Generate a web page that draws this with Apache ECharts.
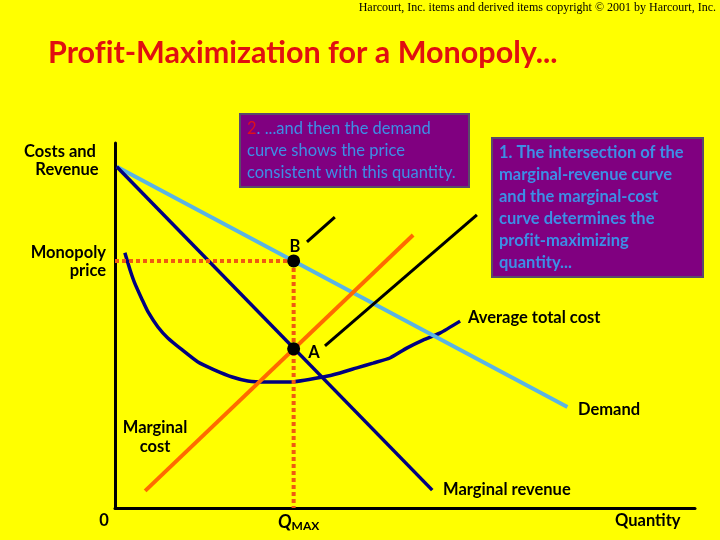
<!DOCTYPE html>
<html>
<head>
<meta charset="utf-8">
<script src="https://cdn.jsdelivr.net/npm/echarts@6/dist/echarts.min.js"></script>
<style>
  html, body { margin: 0; padding: 0; background: #ffff00; }
  #chart { width: 720px; height: 540px; }
</style>
</head>
<body>
<div id="chart"></div>
<script>
/* ===== data (quantity, price) ===== */
const demand = [[0.3, 93.5], [78, 27.7]];
const marginalRevenue = [[0.3, 93.5], [54.7, 4.9]];
const marginalCost = [[5.2, 4.7], [51.4, 74.8]];
const averageTotalCost = [
  [1.7, 69.9], [2.6, 65.2], [3.4, 61.6], [4.7, 57.0], [5.7, 53.7],
  [7.4, 49.6], [9.1, 46.6], [11.6, 43.3], [14.3, 40.0], [17.2, 37.8],
  [20.2, 35.9], [22.9, 34.8], [25.9, 34.5], [30.2, 34.5], [35.9, 35.9],
  [38.8, 37.0], [41.7, 38.4], [44.5, 39.7], [47.4, 41.1], [50.3, 43.8],
  [53.1, 46.0], [56.0, 47.9], [59.5, 51.2]
];
const qMax = 30.8;
const monopolyPrice = 67.7;
const costAtQ = 43.6;
const leaderB = [[33.1, 72.9], [37.9, 79.7]];
const leaderA = [[36.2, 44.4], [62.4, 80.3]];

const font = "Lato, 'Open Sans', sans-serif";
const blueText = "#3c8fe6";
const lbl = "bold 16.5px " + font;

const chart = echarts.init(document.getElementById("chart"));

const lineSeries = (data, color, width, extra) => Object.assign({
  type: "line",
  data: data,
  symbol: "none",
  silent: true,
  lineStyle: { color: color, width: width },
}, extra || {});

const label = (x, y, text, align) => ({
  type: "text", x: x, y: y,
  style: { text: text, font: lbl, fill: "#000", align: align || "left", verticalAlign: "middle" },
});

chart.setOption({
  backgroundColor: "#ffff00",
  animation: false,
  grid: { left: 115, right: 25, top: 143, bottom: 32 },
  xAxis: {
    type: "value", min: 0, max: 100,
    axisLine: { show: true, onZero: false, lineStyle: { color: "#000", width: 3 } },
    axisTick: { show: false }, axisLabel: { show: false }, splitLine: { show: false },
  },
  yAxis: {
    type: "value", min: 0, max: 100,
    axisLine: { show: true, onZero: false, lineStyle: { color: "#000", width: 3 } },
    axisTick: { show: false }, axisLabel: { show: false }, splitLine: { show: false },
  },
  series: [
    lineSeries(averageTotalCost, "#000080", 3.5, { smooth: 0.2 }),
    lineSeries(demand, "#5ab4e4", 4),
    lineSeries(marginalRevenue, "#000080", 3.5),
    lineSeries(marginalCost, "#ff6a00", 4),
    // dotted guides
    lineSeries([[0, monopolyPrice], [qMax, monopolyPrice]], "#f05a10", 4, {
      lineStyle: { color: "#f05a10", width: 4, type: [4, 3] },
    }),
    lineSeries([[qMax, monopolyPrice], [qMax, 0]], "#f05a10", 4, {
      lineStyle: { color: "#f05a10", width: 4, type: [4, 3] },
    }),
    // leader lines
    lineSeries(leaderB, "#000", 3),
    lineSeries(leaderA, "#000", 3),
    {
      type: "scatter",
      data: [[qMax, monopolyPrice], [qMax, costAtQ]],
      symbolSize: 13,
      itemStyle: { color: "#000", opacity: 1 },
      z: 10,
      silent: true,
    },
  ],
  graphic: [
    {
      type: "text", right: 4, top: 2,
      style: {
        text: "Harcourt, Inc. items and derived items copyright © 2001 by Harcourt, Inc.",
        font: "12px 'Liberation Serif', serif", fill: "#000",
      },
    },
    {
      type: "text", left: 48, top: 38,
      style: {
        text: "Prof\u200Cit-Maximization for a Monopoly...",
        font: "bold 30.5px " + font, fill: "#e01010",
      },
    },
    // box 2
    {
      type: "rect", shape: { x: 240, y: 114, width: 229, height: 73 },
      style: { fill: "#800080", stroke: "#5a4a6a", lineWidth: 2 },
    },
    {
      type: "text", left: 247, top: 118,
      style: {
        text: "{r|2}. ...and then the demand\ncurve shows the price\nconsistent with this quantity.",
        font: "16.5px " + font, fill: blueText, lineHeight: 22,
        rich: { r: { fill: "#e0101a", font: "16.5px " + font, lineHeight: 22 } },
      },
    },
    // box 1
    {
      type: "rect", shape: { x: 492, y: 138, width: 211, height: 139 },
      style: { fill: "#800080", stroke: "#5a4a6a", lineWidth: 2 },
    },
    {
      type: "text", left: 499, top: 142,
      style: {
        text: "1. The intersection of the\nmarginal-revenue curve\nand the marginal-cost\ncurve determines the\nprof\u200Cit-maximizing\nquantity...",
        font: "bold 16.5px " + font, fill: blueText, lineHeight: 22,
      },
    },
    // axis labels
    label(60, 152, "Costs and", "center"),
    label(67, 170, "Revenue", "center"),
    label(106, 253, "Monopoly", "right"),
    label(106, 271, "price", "right"),
    label(295, 247, "B", "center"),
    label(314, 353, "A", "center"),
    label(468, 318, "Average total cost"),
    label(578, 410, "Demand"),
    label(155, 428, "Marginal", "center"),
    label(155, 447, "cost", "center"),
    label(443, 490, "Marginal revenue"),
    label(104, 521, "0", "center"),
    {
      type: "text", x: 278, y: 512,
      style: {
        text: "{q|Q}{m|MAX}", fill: "#000",
        rich: {
          q: { font: "italic bold 18px " + font, fill: "#000" },
          m: { font: "bold 12px " + font, fill: "#000", padding: [8, 0, 0, 0] },
        },
      },
    },
    label(615, 521, "Quantity"),
  ],
});
</script>
</body>
</html>
